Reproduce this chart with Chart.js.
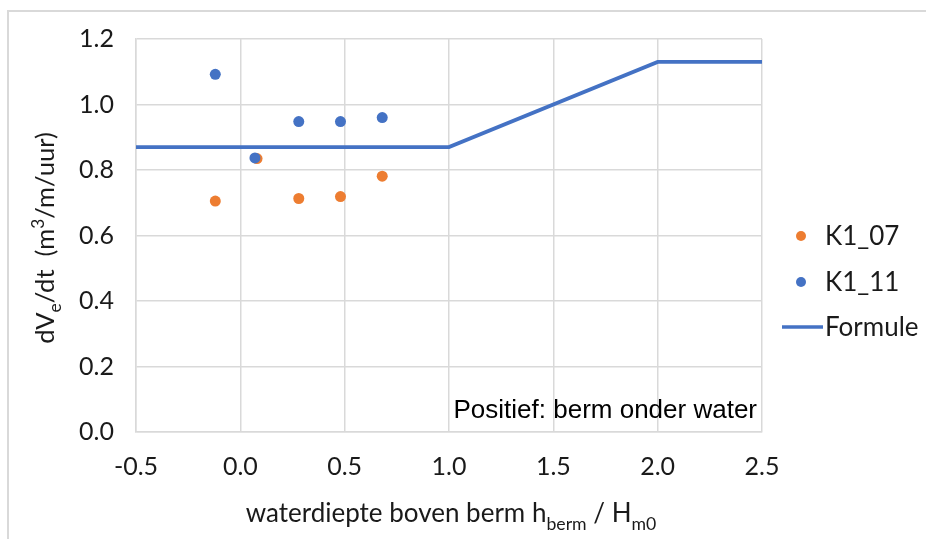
<!DOCTYPE html>
<html>
<head>
<meta charset="utf-8">
<script src="https://cdn.jsdelivr.net/npm/chart.js@4/dist/chart.umd.min.js"></script>
<style>
  html, body { margin: 0; padding: 0; background: #ffffff; }
  #wrap { width: 926px; height: 539px; position: relative; }
</style>
</head>
<body>
<div id="wrap"><canvas id="c" width="926" height="539"></canvas></div>
<script>
// ---- data ----
const seriesNames = ["K1_07", "K1_11", "Formule"];
const xK1_07 = [-0.12, 0.08, 0.28, 0.48, 0.68];
const yK1_07 = [0.705, 0.835, 0.713, 0.719, 0.781];
const xK1_11 = [-0.12, 0.07, 0.28, 0.48, 0.68];
const yK1_11 = [1.092, 0.837, 0.948, 0.948, 0.960];
const xFormule = [-0.5, 1.0, 2.0, 2.5];
const yFormule = [0.87, 0.87, 1.13, 1.13];
const xTicks = [-0.5, 0.0, 0.5, 1.0, 1.5, 2.0, 2.5];
const yTicks = [0.0, 0.2, 0.4, 0.6, 0.8, 1.0, 1.2];
const annotationText = "Positief: berm onder water";

const ORANGE = "#ED7D31";
const BLUE = "#4472C4";
const GRID = "#d9d9d9";
const TEXT = "#1a1a1a";
const FONT = "Lato, 'Open Sans', sans-serif";

function pts(xs, ys) { return xs.map((x, i) => ({ x: x, y: ys[i] })); }

// rich text drawing (subscripts/superscripts)
function drawRich(ctx, segs, cx, cy, rot, size) {
  ctx.save();
  ctx.translate(cx, cy);
  if (rot) ctx.rotate(rot);
  const widths = segs.map(s => {
    const fs = s.t === 'n' ? size : size * 0.68;
    ctx.font = fs + "px " + FONT;
    return ctx.measureText(s.s).width;
  });
  const total = widths.reduce((a, b) => a + b, 0);
  let x = -total / 2;
  ctx.fillStyle = TEXT;
  ctx.textBaseline = "alphabetic";
  ctx.textAlign = "left";
  const base = size * 0.36;
  segs.forEach((s, i) => {
    const fs = s.t === 'n' ? size : size * 0.68;
    ctx.font = fs + "px " + FONT;
    let dy = 0;
    if (s.t === 'sub') dy = size * 0.28;
    if (s.t === 'sup') dy = -size * 0.38;
    ctx.fillText(s.s, x, base + dy);
    x += widths[i];
  });
  ctx.restore();
}

const extras = {
  id: 'extras',
  beforeDraw(chart) {
    const ctx = chart.ctx;
    ctx.save();
    ctx.fillStyle = "#ffffff";
    ctx.fillRect(0, 0, chart.width, chart.height);
    ctx.strokeStyle = GRID;
    ctx.lineWidth = 2;
    ctx.beginPath();
    ctx.moveTo(8, 539);
    ctx.lineTo(8, 11);
    ctx.lineTo(926, 11);
    ctx.stroke();
    ctx.restore();
  },
  afterDraw(chart) {
    const ctx = chart.ctx;
    // axis titles
    drawRich(ctx, [
      { s: "dV", t: 'n' }, { s: "e", t: 'sub' }, { s: "/dt  (m", t: 'n' },
      { s: "3", t: 'sup' }, { s: "/m/uur)", t: 'n' }
    ], 45, 238, -Math.PI / 2, 25.5);
    drawRich(ctx, [
      { s: "waterdiepte boven berm h", t: 'n' }, { s: "berm", t: 'sub' },
      { s: " / H", t: 'n' }, { s: "m0", t: 'sub' }
    ], 451, 513, 0, 26);

    // annotation
    ctx.save();
    ctx.font = "26px 'Liberation Sans', Arial, sans-serif";
    ctx.fillStyle = "#000000";
    ctx.textAlign = "right";
    ctx.textBaseline = "middle";
    ctx.fillText(annotationText, 757, 411);
    ctx.restore();

    // legend
    const items = chart.data.datasets;
    const ys = [236, 282, 327];
    ctx.save();
    ctx.font = "26px " + FONT;
    ctx.textBaseline = "middle";
    ctx.textAlign = "left";
    items.forEach((ds, i) => {
      const y = ys[i];
      if (ds.showLine) {
        ctx.strokeStyle = ds.borderColor;
        ctx.lineWidth = 3.5;
        ctx.beginPath();
        ctx.moveTo(782, y);
        ctx.lineTo(823, y);
        ctx.stroke();
      } else {
        ctx.fillStyle = ds.backgroundColor;
        ctx.beginPath();
        ctx.arc(801, y, 5, 0, Math.PI * 2);
        ctx.fill();
      }
      ctx.fillStyle = TEXT;
      ctx.fillText(ds.label, 825, y + 1);
    });
    ctx.restore();
  }
};

new Chart(document.getElementById('c'), {
  type: 'scatter',
  data: {
    datasets: [
      {
        label: seriesNames[0], data: pts(xK1_07, yK1_07),
        backgroundColor: ORANGE, borderColor: ORANGE, borderWidth: 0,
        pointRadius: 5.5, order: 3
      },
      {
        label: seriesNames[1], data: pts(xK1_11, yK1_11),
        backgroundColor: BLUE, borderColor: BLUE, borderWidth: 0,
        pointRadius: 5.5, order: 2
      },
      {
        label: seriesNames[2], data: pts(xFormule, yFormule),
        showLine: true, borderColor: BLUE, backgroundColor: BLUE,
        borderWidth: 3.75, pointRadius: 0, tension: 0, order: 1
      }
    ]
  },
  options: {
    responsive: false,
    animation: false,
    devicePixelRatio: 1,
    layout: { padding: { left: 0, right: 164, top: 39, bottom: 0 } },
    plugins: { legend: { display: false }, tooltip: { enabled: false } },
    scales: {
      x: {
        type: 'linear', min: xTicks[0], max: xTicks[xTicks.length - 1],
        afterBuildTicks(scale) { scale.ticks = xTicks.map(v => ({ value: v })); },
        afterFit(scale) { scale.height = 107; },
        grid: { color: GRID, lineWidth: 1.5, drawTicks: false },
        border: { color: GRID, width: 1.5 },
        ticks: {
          padding: 20, color: TEXT, font: { family: FONT, size: 25 },
          callback: v => Number(v).toFixed(1)
        }
      },
      y: {
        type: 'linear', min: yTicks[0], max: yTicks[yTicks.length - 1],
        afterBuildTicks(scale) { scale.ticks = yTicks.map(v => ({ value: v })); },
        afterFit(scale) { scale.width = 136; },
        grid: { color: GRID, lineWidth: 1.5, drawTicks: false },
        border: { color: GRID, width: 1.5 },
        ticks: {
          padding: 22, color: TEXT, font: { family: FONT, size: 25 },
          callback: v => Number(v).toFixed(1)
        }
      }
    }
  },
  plugins: [extras]
});
</script>
</body>
</html>
